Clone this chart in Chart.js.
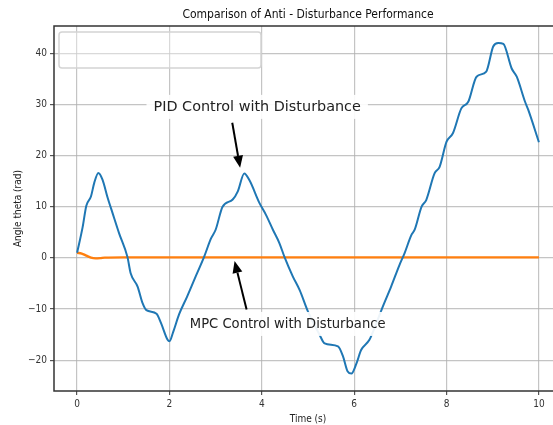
<!DOCTYPE html>
<html>
<head>
<meta charset="utf-8">
<script src="https://cdn.jsdelivr.net/npm/chart.js@4/dist/chart.umd.min.js"></script>
<style>
  html, body { margin: 0; padding: 0; background: #fff; overflow: hidden; }
  #wrap { width: 580px; height: 425px; }
</style>
</head>
<body>
<div id="wrap"><canvas id="angleChart" width="580" height="425"></canvas></div>
<script>
// PID response (time in s, angle in rad)
const pidTime = [0, 0.12, 0.2, 0.3, 0.37, 0.46, 0.55, 0.66, 0.77, 0.91, 1.09, 1.16, 1.31, 1.42, 1.5, 1.72, 1.82, 1.96, 2.0, 2.08, 2.21, 2.38, 2.55, 2.75, 2.9, 3.0, 3.15, 3.37, 3.48, 3.62, 3.73, 3.95, 4.09, 4.24, 4.38, 4.49, 4.67, 4.82, 5.0, 5.25, 5.36, 5.65, 5.76, 5.86, 5.94, 6.05, 6.15, 6.33, 6.44, 6.62, 6.8, 6.98, 7.09, 7.24, 7.31, 7.46, 7.56, 7.74, 7.85, 8.0, 8.14, 8.32, 8.47, 8.65, 8.86, 9.01, 9.12, 9.23, 9.41, 9.52, 9.7, 9.77, 10.0];
const pidAngle = [1.0, 6.0, 10.2, 12.0, 14.6, 16.6, 15.3, 11.8, 8.7, 4.8, 0.2, -3.0, -5.6, -8.9, -10.2, -10.9, -12.8, -16.0, -16.3, -14.5, -11.0, -7.6, -4.0, 0.2, 3.8, 5.5, 10.0, 11.4, 13.0, 16.5, 15.2, 10.7, 8.4, 5.5, 2.9, 0.2, -3.6, -6.3, -10.5, -15.0, -16.7, -17.3, -19.3, -22.2, -22.6, -20.6, -18.0, -16.0, -13.7, -9.5, -5.6, -1.4, 0.9, 4.5, 5.5, 10.0, 11.3, 16.5, 17.8, 22.7, 24.4, 29.2, 30.5, 35.4, 36.4, 41.3, 42.0, 41.8, 37.0, 35.4, 30.5, 28.9, 22.6];

// MPC response
const mpcTime = [0, 0.1, 0.2, 0.3, 0.4, 0.5, 0.6, 1, 2, 3, 4, 5, 6, 7, 8, 9, 10];
const mpcAngle = [1.0, 0.85, 0.45, 0.05, -0.1, -0.05, 0.05, 0.1, 0.1, 0.1, 0.1, 0.1, 0.1, 0.1, 0.1, 0.1, 0.1];

// Axis ticks and range
const xTicks = [0, 2, 4, 6, 8, 10];
const yTicks = [-20, -10, 0, 10, 20, 30, 40];
const xRange = [-0.5, 10.5];
const yRange = [-26, 45.3];

// Annotations: label position, arrow tail and arrow tip in data units
const pidNote = { text: 'PID Control with Disturbance', x: 3.9, y: 29.5, tail: [3.36, 26.4], tip: [3.53, 17.6] };
const mpcNote = { text: 'MPC Control with Disturbance', x: 4.56, y: -12.9, tail: [3.67, -10.1], tip: [3.41, -0.6] };

const COND = '"DejaVu Sans Condensed", "Liberation Sans Narrow", "DejaVu Sans", sans-serif';
const GRID = 'rgba(176,176,176,0.75)';

const toPoints = (xs, ys) => xs.map((x, i) => ({ x: x, y: ys[i] }));
const minus = v => (v < 0 ? '\u2212' + Math.abs(v) : String(v));

function drawArrow(ctx, x0, y0, x1, y1) {
    const ang = Math.atan2(y1 - y0, x1 - x0);
    const headLen = 12, headW = 5;
    const bx = x1 - headLen * Math.cos(ang), by = y1 - headLen * Math.sin(ang);
    ctx.strokeStyle = '#000';
    ctx.lineWidth = 2;
    ctx.beginPath();
    ctx.moveTo(x0, y0);
    ctx.lineTo(bx, by);
    ctx.stroke();
    ctx.fillStyle = '#000';
    ctx.beginPath();
    ctx.moveTo(x1, y1);
    ctx.lineTo(bx + headW * Math.sin(ang), by - headW * Math.cos(ang));
    ctx.lineTo(bx - headW * Math.sin(ang), by + headW * Math.cos(ang));
    ctx.closePath();
    ctx.fill();
}

function drawNote(chart, note, font) {
    const { ctx, scales: { x, y } } = chart;
    drawArrow(ctx, x.getPixelForValue(note.tail[0]), y.getPixelForValue(note.tail[1]),
        x.getPixelForValue(note.tip[0]), y.getPixelForValue(note.tip[1]));
    const cx = x.getPixelForValue(note.x), cy = y.getPixelForValue(note.y);
    ctx.font = font;
    const w = ctx.measureText(note.text).width;
    ctx.fillStyle = 'rgba(255,255,255,0.92)';
    ctx.fillRect(cx - w / 2 - 7, cy - 12, w + 14, 24);
    ctx.fillStyle = '#222';
    ctx.textAlign = 'center';
    ctx.textBaseline = 'middle';
    ctx.fillText(note.text, cx, cy);
}

// Frame, empty legend box, title and annotations
const decorPlugin = {
    id: 'decor',
    afterDatasetsDraw(chart) {
        const { ctx, chartArea: a } = chart;
        ctx.save();

        // legend frame
        const lx = a.left + 5, ly = a.top + 6, lw = 202, lh = 36, r = 3;
        ctx.beginPath();
        ctx.moveTo(lx + r, ly);
        ctx.arcTo(lx + lw, ly, lx + lw, ly + lh, r);
        ctx.arcTo(lx + lw, ly + lh, lx, ly + lh, r);
        ctx.arcTo(lx, ly + lh, lx, ly, r);
        ctx.arcTo(lx, ly, lx + lw, ly, r);
        ctx.closePath();
        ctx.fillStyle = 'rgba(255,255,255,0.35)';
        ctx.fill();
        ctx.strokeStyle = '#d4d4d4';
        ctx.lineWidth = 1.5;
        ctx.stroke();

        drawNote(chart, pidNote, '14.4px "DejaVu Sans", sans-serif');
        drawNote(chart, mpcNote, '14.6px ' + COND);

        // axes frame: left, top and bottom spines
        ctx.strokeStyle = '#333';
        ctx.lineWidth = 1.5;
        ctx.beginPath();
        ctx.moveTo(a.right + 2, a.top);
        ctx.lineTo(a.left, a.top);
        ctx.lineTo(a.left, a.bottom);
        ctx.lineTo(a.right + 2, a.bottom);
        ctx.stroke();

        // title
        ctx.fillStyle = '#111';
        ctx.font = '12px ' + COND;
        ctx.textAlign = 'center';
        ctx.textBaseline = 'middle';
        ctx.fillText('Comparison of Anti - Disturbance Performance', (a.left + a.right) / 2, 15);
        ctx.restore();
    }
};

const tickFont = { family: COND, size: 10 };

new Chart(document.getElementById('angleChart'), {
    type: 'line',
    data: {
        datasets: [{
            label: 'PID Control with Disturbance',
            data: toPoints(pidTime, pidAngle),
            borderColor: '#1f77b4',
            borderWidth: 2,
            pointRadius: 0,
            cubicInterpolationMode: 'monotone'
        }, {
            label: 'MPC Control with Disturbance',
            data: toPoints(mpcTime, mpcAngle),
            borderColor: '#ff7f0e',
            borderWidth: 2.4,
            pointRadius: 0,
            cubicInterpolationMode: 'monotone'
        }]
    },
    options: {
        responsive: false,
        animation: false,
        layout: { padding: { top: 26, right: 18, left: 0, bottom: 0 } },
        plugins: {
            legend: { display: false },
            title: { display: false },
            tooltip: { enabled: false }
        },
        scales: {
            x: {
                type: 'linear',
                min: xRange[0],
                max: xRange[1],
                afterBuildTicks: s => { s.ticks = xTicks.map(v => ({ value: v })); },
                afterFit: s => { s.height = 34; },
                grid: { color: GRID, lineWidth: 1.2, tickLength: 4, tickColor: '#555' },
                border: { display: false },
                ticks: { font: tickFont, color: '#333', padding: 3, maxRotation: 0, callback: v => minus(v) },
                title: { display: true, text: 'Time (s)', font: tickFont, color: '#222', padding: { top: 0, bottom: 0 } }
            },
            y: {
                type: 'linear',
                min: yRange[0],
                max: yRange[1],
                afterBuildTicks: s => { s.ticks = yTicks.map(v => ({ value: v })); },
                afterFit: s => { s.width = 54; },
                grid: { color: GRID, lineWidth: 1.2, tickLength: 4, tickColor: '#555' },
                border: { display: false },
                ticks: { font: tickFont, color: '#333', padding: 3, callback: v => minus(v) },
                title: { display: true, text: 'Angle theta (rad)', font: tickFont, color: '#222', padding: { top: 12, bottom: 0 } }
            }
        }
    },
    plugins: [decorPlugin]
});
</script>
</body>
</html>
